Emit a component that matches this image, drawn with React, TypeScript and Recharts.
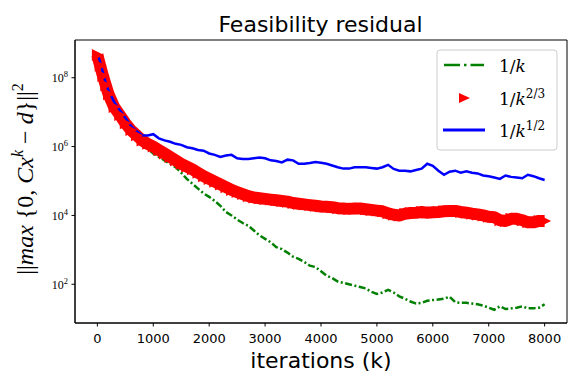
import React from "react";
import { LineChart, Line, XAxis, YAxis, ReferenceArea } from "recharts";

// iterations (k)
const ITER = [
  0, 50, 100, 150, 200, 300, 400, 500, 600, 700, 800, 900, 1000, 1100, 1200, 1300, 1400, 1500,
  1600, 1700, 1800, 1900, 2000, 2100, 2200, 2300, 2400, 2500, 2600, 2700, 2800, 2900, 3000,
  3100, 3200, 3300, 3400, 3500, 3600, 3700, 3800, 3900, 4000, 4100, 4200, 4300, 4400, 4500,
  4600, 4700, 4800, 4900, 5000, 5100, 5200, 5300, 5400, 5500, 5600, 5700, 5800, 5900, 6000,
  6100, 6200, 6300, 6400, 6500, 6600, 6700, 6800, 6900, 7000, 7100, 7200, 7300, 7400, 7500,
  7600, 7700, 7800, 7900, 8000,
];

// log10 of residual, step size 1/k (green)
const LOG_K1 = [
  8.66, 8.35, 8.05, 7.76, 7.50, 7.15, 6.90, 6.65, 6.44, 6.26, 6.08, 5.94, 5.80, 5.70, 5.60, 5.50, 5.40, 5.24,
  5.06, 4.92, 4.78, 4.64, 4.54, 4.42, 4.28, 4.10, 4.00, 3.88, 3.78, 3.70, 3.56, 3.42, 3.32,
  3.22, 3.08, 3.02, 2.92, 2.80, 2.74, 2.65, 2.54, 2.50, 2.38, 2.25, 2.18, 2.08, 2.04, 2.00,
  1.96, 1.92, 1.88, 1.78, 1.72, 1.76, 1.84, 1.76, 1.65, 1.58, 1.50, 1.44, 1.46, 1.52, 1.54,
  1.56, 1.58, 1.64, 1.48, 1.46, 1.46, 1.44, 1.42, 1.38, 1.32, 1.26, 1.36, 1.28, 1.30, 1.32,
  1.36, 1.30, 1.30, 1.32, 1.42,
];

// log10 of residual, step size 1/k^(2/3) (red)
const LOG_K23 = [
  8.66, 8.35, 8.05, 7.78, 7.52, 7.15, 6.92, 6.68, 6.48, 6.33, 6.18, 6.08, 6.00, 5.90, 5.80, 5.70, 5.60, 5.50,
  5.42, 5.34, 5.24, 5.14, 5.06, 4.98, 4.90, 4.82, 4.74, 4.68, 4.62, 4.56, 4.52, 4.50, 4.48,
  4.46, 4.44, 4.42, 4.40, 4.36, 4.34, 4.32, 4.30, 4.28, 4.26, 4.25, 4.24, 4.21, 4.20, 4.19,
  4.20, 4.20, 4.18, 4.16, 4.14, 4.12, 4.06, 4.02, 4.00, 4.05, 4.07, 4.08, 4.10, 4.08, 4.09,
  4.10, 4.12, 4.13, 4.13, 4.10, 4.08, 4.05, 4.03, 4.00, 3.96, 3.95, 3.86, 3.84, 3.90, 3.90,
  3.86, 3.80, 3.80, 3.84, 3.84,
];

// log10 of residual, step size 1/k^(1/2) (blue)
const LOG_K12 = [
  8.72, 8.45, 8.15, 7.85, 7.62, 7.30, 7.06, 6.84, 6.60, 6.45, 6.33, 6.32, 6.36, 6.24, 6.18, 6.14, 6.08, 6.05,
  5.98, 5.95, 5.90, 5.88, 5.80, 5.76, 5.70, 5.74, 5.76, 5.66, 5.64, 5.64, 5.66, 5.68, 5.66,
  5.60, 5.58, 5.54, 5.62, 5.60, 5.50, 5.50, 5.52, 5.55, 5.53, 5.50, 5.45, 5.40, 5.36, 5.36,
  5.40, 5.40, 5.40, 5.38, 5.36, 5.40, 5.47, 5.35, 5.30, 5.30, 5.28, 5.32, 5.36, 5.50, 5.44,
  5.30, 5.18, 5.27, 5.30, 5.24, 5.28, 5.24, 5.22, 5.16, 5.14, 5.10, 5.06, 5.16, 5.12, 5.10,
  5.08, 5.18, 5.14, 5.08, 5.03,
];

const X_TICKS = [0, 1000, 2000, 3000, 4000, 5000, 6000, 7000, 8000];
const Y_TICKS = [1e2, 1e4, 1e6, 1e8];
const X_DOMAIN = [-400, 8400];
const Y_DOMAIN = [Math.pow(10, 0.875), Math.pow(10, 9.096)];

const build = (logs: number[]) => ITER.map((x, i) => ({ x, y: Math.pow(10, logs[i]) }));
const dataK1 = build(LOG_K1);
const dataK23 = build(LOG_K23);
const dataK12 = build(LOG_K12);

const XTick = (props: any) => {
  const { x, payload } = props;
  return (
    <text x={x} y={343} textAnchor="middle" fontFamily="DejaVu Sans" fontSize={13} fill="#000">
      {payload.value}
    </text>
  );
};

const YTick = (props: any) => {
  const { y, payload } = props;
  const exp = Math.round(Math.log10(payload.value));
  return (
    <text x={68} y={y + 4.5} textAnchor="end" fontFamily="Liberation Serif" fontSize={12} fill="#000" stroke="none">
      <tspan fill="#000">10</tspan>
      <tspan dy={-5} fontSize={8.5} fill="#000">{exp}</tspan>
    </text>
  );
};

const Tri = (props: any) => {
  const { cx, cy, index } = props;
  if (cx == null || cy == null) return <g key={`t${index}`} />;
  return (
    <polygon
      key={`t${index}`}
      points={`${cx - 5.5},${cy - 6} ${cx + 6.5},${cy} ${cx - 5.5},${cy + 6}`}
      fill="#ff0000"
      stroke="none"
    />
  );
};

export default function App() {
  return (
    <div style={{ position: "absolute", left: 0, top: 0, width: 581, height: 388, background: "#fff" }}>
      <LineChart width={581} height={388} margin={{ top: 40, right: 14, bottom: 0, left: 0 }}>
        <XAxis
          dataKey="x"
          type="number"
          domain={X_DOMAIN}
          ticks={X_TICKS}
          allowDataOverflow
          height={65}
          tick={<XTick />}
          tickSize={3.5}
          tickLine={{ stroke: "#000" }}
          axisLine={{ stroke: "#000" }}
        />
        <YAxis
          type="number"
          scale="log"
          domain={Y_DOMAIN}
          ticks={Y_TICKS}
          allowDataOverflow
          width={75}
          tick={<YTick />}
          tickSize={3.5}
          tickLine={{ stroke: "#000" }}
          axisLine={{ stroke: "#000" }}
        />
        <Line
          data={dataK1}
          dataKey="y"
          type="linear"
          stroke="#008000"
          strokeWidth={2.5}
          strokeDasharray="7 2.5 2 2.5"
          dot={false}
          isAnimationActive={false}
        />
        <Line
          data={dataK23}
          dataKey="y"
          type="linear"
          stroke="#ff0000"
          strokeWidth={12}
          strokeLinejoin="round"
          dot={Tri}
          isAnimationActive={false}
        />
        <Line
          data={dataK12}
          dataKey="y"
          type="linear"
          stroke="#0000ff"
          strokeWidth={2.5}
          dot={false}
          isAnimationActive={false}
        />
        <ReferenceArea
          x1={X_DOMAIN[0]}
          x2={X_DOMAIN[1]}
          y1={Y_DOMAIN[0]}
          y2={Y_DOMAIN[1]}
          fill="none"
          stroke="#000"
          strokeWidth={1}
          ifOverflow="visible"
        />
      </LineChart>
      <svg
        width={581}
        height={388}
        style={{ position: "absolute", left: 0, top: 0, pointerEvents: "none" }}
      >
        <text x={320.5} y={32} textAnchor="middle" fontFamily="DejaVu Sans" fontSize={22} fill="#000">
          Feasibility residual
        </text>
        <text x={321} y={368} textAnchor="middle" fontFamily="DejaVu Sans" fontSize={22} fill="#000">
          iterations (k)
        </text>
        <text
          x={33}
          y={179}
          textAnchor="middle"
          transform="rotate(-90, 33, 179)"
          fontFamily="Liberation Serif"
          fontSize={24}
          fill="#000"
        >
          <tspan>||</tspan>
          <tspan fontStyle="italic">max</tspan>
          <tspan> {"{"}0, </tspan>
          <tspan fontStyle="italic">Cx</tspan>
          <tspan fontStyle="italic" fontSize={16} dy={-10}>k</tspan>
          <tspan dy={10}> − </tspan>
          <tspan fontStyle="italic">d</tspan>
          <tspan>{"}"}||</tspan>
          <tspan fontSize={16} dy={-10}>2</tspan>
        </text>
        <rect x={437} y={50} width={120} height={100} rx={3} fill="#fff" fillOpacity={0.8} stroke="#cccccc" strokeWidth={1} />
        <line x1={444} y1={65} x2={484} y2={65} stroke="#008000" strokeWidth={2.5} strokeDasharray="16 4 2.5 4" />
        <polygon points="459,93 470,98 459,103" fill="#ff0000" />
        <line x1={443} y1={130} x2={485} y2={130} stroke="#0000ff" strokeWidth={3} />
        <text x={499} y={72} fontFamily="DejaVu Serif" fontSize={17} fill="#000">
          <tspan>1/</tspan>
          <tspan fontStyle="italic">k</tspan>
        </text>
        <text x={499} y={105} fontFamily="DejaVu Serif" fontSize={17} fill="#000">
          <tspan>1/</tspan>
          <tspan fontStyle="italic">k</tspan>
          <tspan fontSize={12} dy={-7}>2/3</tspan>
        </text>
        <text x={499} y={137} fontFamily="DejaVu Serif" fontSize={17} fill="#000">
          <tspan>1/</tspan>
          <tspan fontStyle="italic">k</tspan>
          <tspan fontSize={12} dy={-7}>1/2</tspan>
        </text>
      </svg>
    </div>
  );
}
